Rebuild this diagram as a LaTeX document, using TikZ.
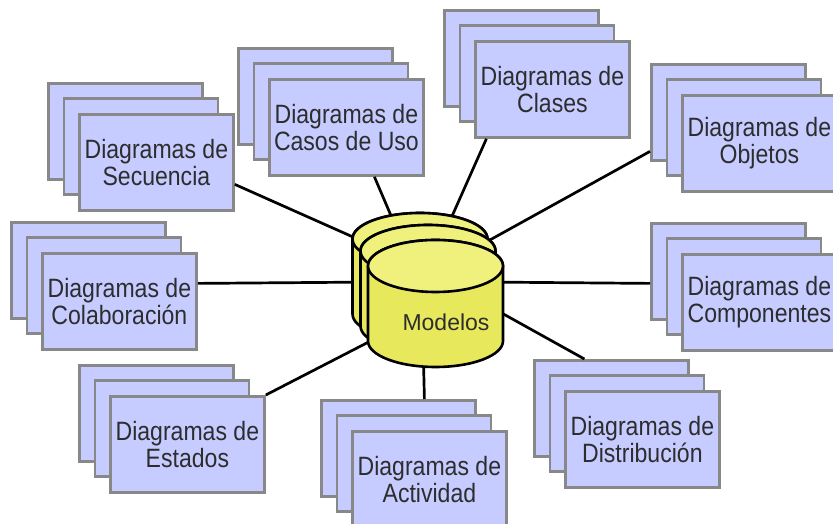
\documentclass[tikz,border=0pt]{standalone}
\usepackage{fontspec}
\setmainfont{Liberation Sans}
\newfontfamily\boxfont[FakeStretch=0.87]{Liberation Sans}
\definecolor{boxfill}{RGB}{198,204,255}
\definecolor{boxline}{RGB}{136,136,136}
\definecolor{cyltop}{RGB}{240,240,124}
\definecolor{cylbody}{RGB}{232,232,92}
\definecolor{txt}{RGB}{45,45,45}
\tikzset{
  dbox/.style={draw=boxline, line width=2.8pt, fill=boxfill, minimum width=154pt,
    minimum height=96pt, inner sep=0pt, anchor=north west, align=center,
    font=\boxfont\fontsize{26.5}{27}\selectfont, text=txt},
  conn/.style={line width=2.7pt, black},
  cylline/.style={line width=2.6pt, black},
}
% name, x (px), y (px from top), text
\newcommand\dstack[4]{%
  \node[dbox] (#1-3) at (#2-31, 524-#3+31) {};
  \node[dbox] (#1-2) at (#2-15.5, 524-#3+15.5) {};
  \node[dbox] (#1) at (#2, 524-#3) {#4};
}
% cx, y of top ellipse centre
\newcommand\modelcyl[2]{%
  \filldraw[cylline, fill=cylbody] (#1-67.5,#2) -- (#1-67.5,#2-75)
    arc[start angle=180, end angle=360, x radius=67.5pt, y radius=26pt]
    -- (#1+67.5,#2)
    arc[start angle=0, end angle=180, x radius=67.5pt, y radius=26pt] -- cycle;
  \draw[cylline, fill=cyltop] (#1,#2) ellipse[x radius=67.5pt, y radius=26pt];
}
\begin{document}
\begin{tikzpicture}[x=1pt, y=1pt]
\useasboundingbox (0,0) rectangle (833,524);
\fill[white] (0,0) rectangle (833,524);

\dstack{sec}{78}{113}{Diagramas de\\Secuencia}
\dstack{cas}{268}{78}{Diagramas de\\Casos de Uso}
\dstack{cla}{474}{40}{Diagramas de\\Clases}
\dstack{obj}{681}{94}{Diagramas de\\Objetos}
\dstack{col}{41}{252}{Diagramas de\\Colaboración}
\dstack{com}{681}{253}{Diagramas de\\Componentes}
\dstack{est}{109}{395}{Diagramas de\\Estados}
\dstack{act}{351}{430}{Diagramas de\\Actividad}
\dstack{dis}{564}{390}{Diagramas de\\Distribución}

% hidden ends behind the cylinders
\coordinate (h-sec) at (380, 524-249);
\coordinate (h-cas) at (398, 524-232);
\coordinate (h-cla) at (445, 524-232);
\coordinate (h-obj) at (470, 524-251);
\coordinate (h-col) at (380, 524-282);
\coordinate (h-com) at (480, 524-282);
\coordinate (h-dis) at (480, 524-301);
\coordinate (h-est) at (390, 524-331);
\coordinate (h-act) at (423, 524-340);

\draw[conn] (h-sec) -- ([yshift=-22pt]sec.east);
\draw[conn] (h-cas) -- ([xshift=28pt]cas.south);
\draw[conn] (h-cla) -- ([xshift=-66pt]cla.south);
\draw[conn] (h-obj) -- ([yshift=-39pt]obj-3.west);
\draw[conn] (h-col) -- ([yshift=18pt]col.east);
\draw[conn] (h-com) -- ([yshift=-12pt]com-3.west);
\draw[conn] (h-dis) -- ([xshift=-27pt]dis-3.north);
\draw[conn] (h-est) -- (est.north east);
\draw[conn] (h-act) -- ([xshift=26pt]act-3.north);

\modelcyl{420}{285}
\modelcyl{428}{273}
\modelcyl{435.5}{258}
\node[font=\fontsize{23}{23}\selectfont, text=txt] (mod) at (446, 524-322) {Modelos};
\end{tikzpicture}
\end{document}
